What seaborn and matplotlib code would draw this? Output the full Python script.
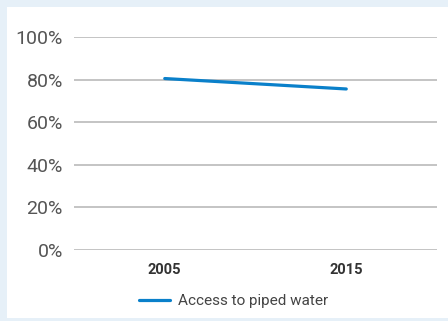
import matplotlib
matplotlib.use("Agg")
import matplotlib.pyplot as plt
import matplotlib.patches as mpatches
from matplotlib.ticker import FuncFormatter
import seaborn as sns
import pandas as pd

years = ["2005", "2015"]
piped_water = [80.5, 75.6]
series_name = "Access to piped water"
y_ticks = [0, 20, 40, 60, 80, 100]

sns.set_style("white")
plt.rcParams["font.family"] = ["Roboto", "DejaVu Sans"]

W, H = 448, 321
fig = plt.figure(figsize=(W / 100, H / 100), dpi=100)
fig.patch.set_facecolor("#e6f0f8")
# white card behind the chart
fig.patches.append(mpatches.Rectangle((7 / W, 1 - 318 / H), (W - 7) / W, (318 - 7) / H,
                                      transform=fig.transFigure, facecolor="white",
                                      edgecolor="none", zorder=-5))

ax = fig.add_axes([74 / W, 1 - 250 / H, (437 - 74) / W, (250 - 37) / H])
ax.set_facecolor("none")
ax.set_zorder(2)

df = pd.DataFrame({"year": years, "value": piped_water, "series": series_name})
sns.lineplot(data=df, x="year", y="value", hue="series", palette=["#0a80ca"],
             linewidth=2.3, ax=ax, sort=False)

ax.set_xlim(-0.5, 1.5)
ax.set_ylim(0, 100)
ax.set_yticks(y_ticks)
ax.yaxis.set_major_formatter(FuncFormatter(lambda v, p: f"{int(v)}%"))
ax.grid(axis="y", color="#b4b4b4", linewidth=1.1)
ax.grid(axis="x", visible=False)
for s in ax.spines.values():
    s.set_visible(False)
ax.tick_params(axis="y", length=0, pad=8, labelsize=14, labelcolor="#555555")
ax.tick_params(axis="x", length=0, pad=9, labelsize=10.5, labelcolor="#333333")
for lbl in ax.get_xticklabels():
    lbl.set_fontweight("bold")
ax.set_xlabel("")
ax.set_ylabel("")

ax.legend_.remove()
handles, labels = ax.get_legend_handles_labels()
fig.legend(handles, labels, loc="center", bbox_to_anchor=(233.5 / W, 1 - 301 / H),
           frameon=False, fontsize=11, labelcolor="#444444", handlelength=2.0,
           handletextpad=0.5)

fig.savefig("out.png", dpi=100, facecolor=fig.get_facecolor())
